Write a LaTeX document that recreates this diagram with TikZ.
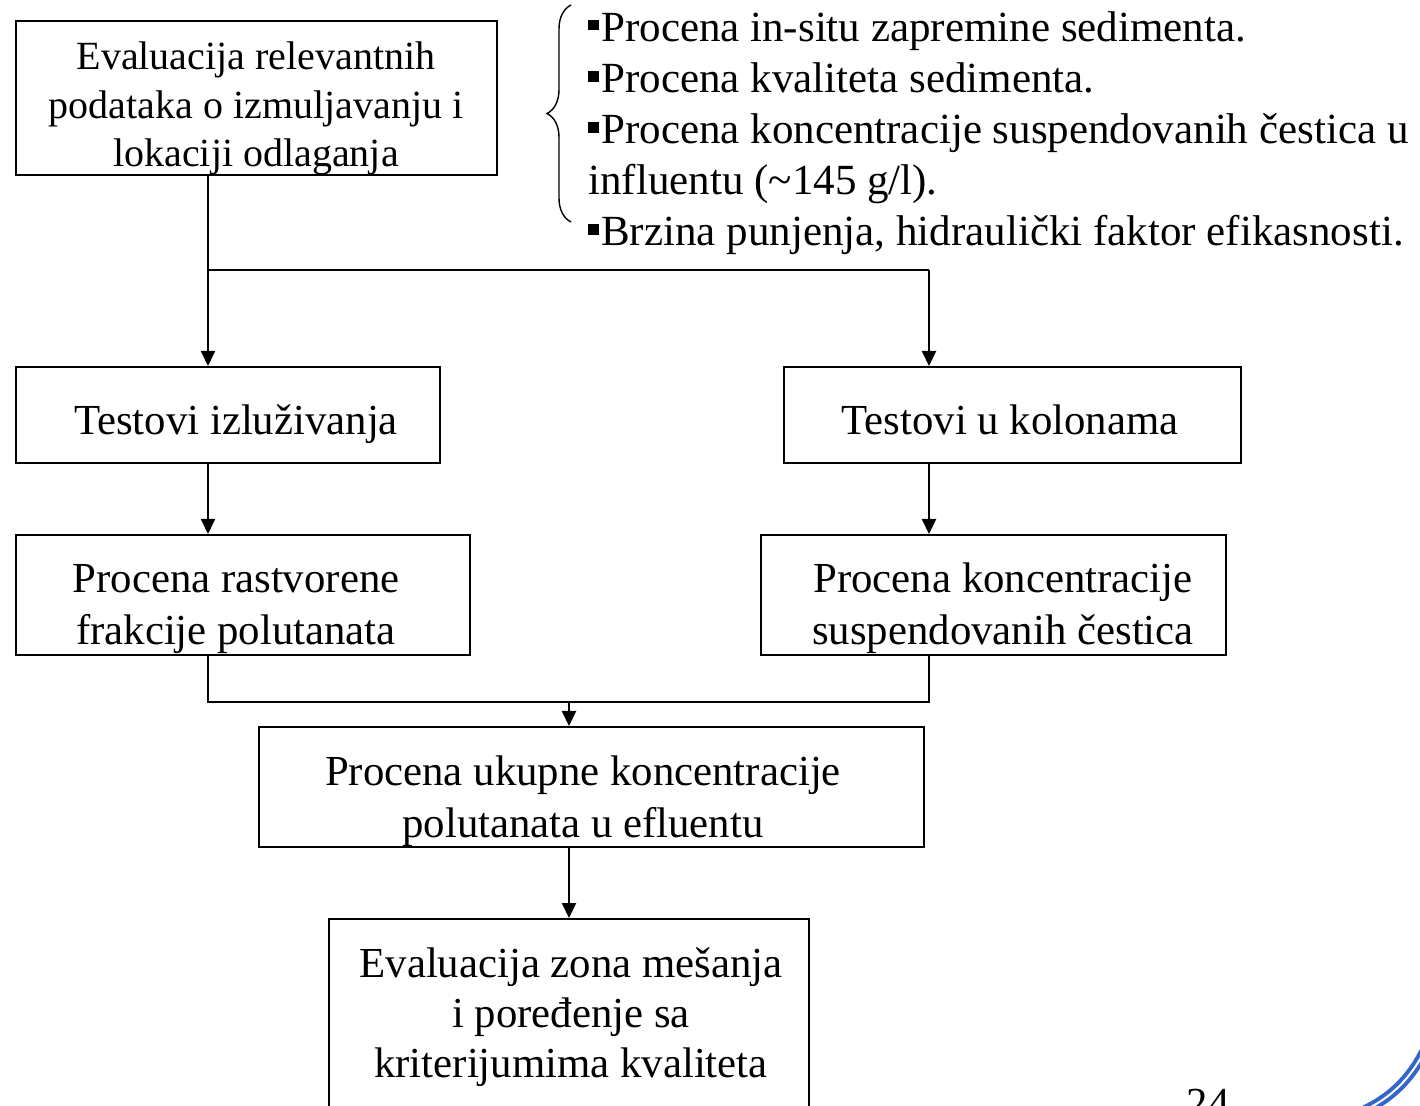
\documentclass[tikz,border=0pt]{standalone}
\usepackage{fontspec}
\setmainfont{Liberation Serif}
\usetikzlibrary{arrows.meta,fit,decorations.pathreplacing}
\begin{document}
\begin{tikzpicture}[x=0.5pt,y=-0.5pt,
  box/.style={draw,line width=1pt,inner sep=0pt,fit={#1}},
  txt/.style={font=\fontsize{21.4}{25}\selectfont,inner sep=0pt,align=center,anchor=base},
  conn/.style={line width=1.1pt},
  arr/.style={line width=1.1pt,-{Triangle[length=7.5pt,width=7pt]}}]
\useasboundingbox (0,0) rectangle (1420,1106);
\clip (0,0) rectangle (1420,1106);
% boxes
\node[box={(16,21)(497,175)}] (b1) {};
\node[box={(16,367)(440,463)}] (b2) {};
\node[box={(784,367)(1241,463)}] (b3) {};
\node[box={(16,535)(470,655)}] (b4) {};
\node[box={(761,535)(1226,655)}] (b5) {};
\node[box={(259,727)(924,847)}] (b6) {};
\node[box={(329,919)(809,1130)}] (b7) {};
% texts (anchor base = baseline of the last line)
\node[txt,font=\fontsize{20}{24.25}\selectfont] (t1) at (256,167) {Evaluacija relevantnih\\podataka o izmuljavanju i\\lokaciji odlaganja};
\node[txt] (t2) at (236,435) {Testovi izluživanja};
\node[txt] (t3) at (1010,435) {Testovi u kolonama};
\node[txt,font=\fontsize{21.4}{26}\selectfont] (t4) at (236,645) {Procena rastvorene\\frakcije polutanata};
\node[txt,font=\fontsize{21.4}{26}\selectfont] (t5) at (1003,645) {Procena koncentracije\\suspendovanih čestica};
\node[txt,font=\fontsize{21.4}{26}\selectfont] (t6) at (583,838) {Procena ukupne koncentracije\\polutanata u efluentu};
\node[txt] (t7) at (571,1077) {Evaluacija zona mešanja\\i poređenje sa\\kriterijumima kvaliteta};
% connectors
\coordinate (j1) at (208,270);
\coordinate (j2) at (929,270);
\coordinate (j3) at (208,702);
\coordinate (j4) at (929,702);
\coordinate (j5) at (569,702);
\draw[conn] (b1.south -| j1) -- (j1) -- (j2);
\draw[arr] (j1) -- (b2.north -| j1);
\draw[arr] (j2) -- (b3.north -| j2);
\draw[arr] (b2.south -| j1) -- (b4.north -| j1);
\draw[arr] (b3.south -| j2) -- (b5.north -| j2);
\draw[conn] (b4.south -| j3) -- (j3) -- (j4) -- (b5.south -| j4);
\draw[arr] (j5) -- (b6.north -| j5);
\draw[arr] (b6.south -| j5) -- (b7.north -| j5);
% brace and list
\coordinate (br1) at (571,222);
\coordinate (br2) at (571,5);
\draw[line width=0.7pt,decorate,decoration={brace,amplitude=12pt}] (br1) -- (br2);
\newcommand{\blt}{\rule[0.25em]{0.25em}{0.25em}\hspace{0.05em}}
\node[txt,font=\fontsize{21.5}{25.6}\selectfont,align=left,anchor=base west] (list) at (588,246)
  {\blt Procena in-situ zapremine sedimenta.\\
   \blt Procena kvaliteta sedimenta.\\
   \blt Procena koncentracije suspendovanih čestica u\\
   influentu (\char`~145 g/l).\\
   \blt Brzina punjenja, hidraulički faktor efikasnosti.};
% page number and corner ornament
\node[txt] (pn) at (1208,1117) {24};
\coordinate (o1) at (1365,1110);
\coordinate (o2) at (1425,1050);
\draw[draw={rgb,255:red,51;green,102;blue,204},double=white,double distance=1pt,line width=2pt]
  (o1) .. controls (1390,1098) and (1410,1080) .. (o2);
\end{tikzpicture}
\end{document}
